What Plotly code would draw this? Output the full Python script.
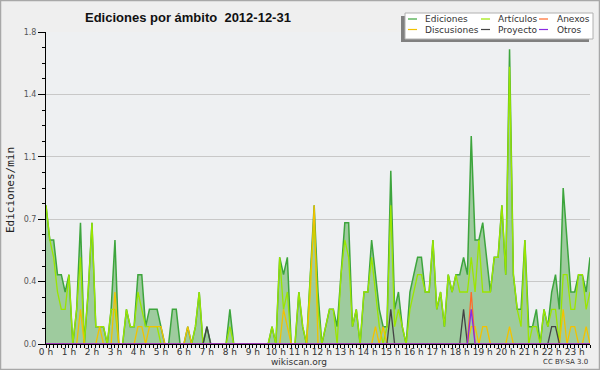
import plotly.graph_objects as go

# ---- data (10-minute buckets, edits per minute) ----
minutes = list(range(0, 1430, 10))          # 00:00 .. 23:40
hour_labels = [f"{h} h" for h in range(24)]
y_tickvals = [0, 0.36, 0.72, 1.08, 1.44, 1.8]
y_ticktext = ["0.0", "0.4", "0.7", "1.1", "1.4", "1.8"]

ediciones = [
    0.8, 0.6, 0.6, 0.4, 0.4, 0.3, 0.4, 0, 0.2, 0.7,
    0, 0.3, 0.7, 0.1, 0.1, 0.1, 0, 0.2, 0.6, 0,
    0, 0.2, 0.1, 0.1, 0.4, 0.4, 0.1, 0.2, 0.2, 0.2,
    0.1, 0, 0, 0.2, 0.2, 0, 0, 0.1, 0, 0.1,
    0.3, 0, 0.1, 0, 0, 0, 0, 0, 0.2, 0,
    0, 0, 0, 0, 0, 0, 0, 0, 0, 0.1,
    0, 0.5, 0.4, 0.5, 0, 0, 0.3, 0.1, 0, 0.4,
    0.8, 0.3, 0, 0.1, 0.2, 0.2, 0.1, 0.4, 0.7, 0.7,
    0.1, 0.2, 0, 0.3, 0.3, 0.6, 0.4, 0.2, 0.1, 0.1,
    1.0, 0.2, 0.3, 0.1, 0, 0.3, 0.4, 0.5, 0.5, 0.3,
    0.3, 0.6, 0.2, 0.3, 0.1, 0.4, 0.3, 0.4, 0.4, 0.5,
    0.4, 1.2, 0.6, 0.6, 0.7, 0.5, 0.3, 0.5, 0.5, 0.8,
    0.4, 1.7, 0.4, 0.2, 0.2, 0.6, 0.1, 0.1, 0.2, 0,
    0.2, 0.1, 0.3, 0.4, 0.2, 0.9, 0.6, 0.3, 0.3, 0.4,
    0.4, 0.3, 0.5,
]
articulos = [
    0.8, 0.6, 0.5, 0.3, 0.2, 0.2, 0.4, 0, 0.2, 0.5,
    0, 0.3, 0.7, 0.1, 0.1, 0.1, 0, 0.2, 0.2, 0,
    0, 0.2, 0.1, 0.1, 0.3, 0.2, 0.1, 0.1, 0.1, 0.1,
    0, 0, 0, 0, 0, 0, 0, 0, 0, 0.1,
    0.3, 0, 0, 0, 0, 0, 0, 0, 0.1, 0,
    0, 0, 0, 0, 0, 0, 0, 0, 0, 0.1,
    0, 0.5, 0.2, 0.3, 0, 0, 0.3, 0.1, 0, 0.4,
    0.7, 0.2, 0, 0.1, 0.2, 0.2, 0, 0.4, 0.6, 0.5,
    0.1, 0.2, 0, 0.3, 0.3, 0.5, 0.3, 0.1, 0, 0.1,
    0.8, 0.1, 0.2, 0.1, 0, 0.2, 0.3, 0.4, 0.4, 0.3,
    0.3, 0.6, 0.2, 0.3, 0.1, 0.4, 0.3, 0.4, 0.3, 0.3,
    0.3, 0.5, 0.3, 0.6, 0.3, 0.3, 0.3, 0.5, 0.5, 0.8,
    0.4, 1.6, 0.4, 0.2, 0.1, 0.6, 0, 0.1, 0.1, 0,
    0.2, 0.1, 0.2, 0.2, 0, 0.4, 0.4, 0.2, 0.2, 0.4,
    0.4, 0.2, 0.3,
]
# sparse series: {bucket index: value}, all other buckets are 0
discusiones_nz = {9: 0.2, 14: 0.1, 18: 0.3, 24: 0.1, 25: 0.1, 27: 0.1, 28: 0.1,
                  29: 0.1, 30: 0.1, 37: 0.1, 62: 0.2, 63: 0.1, 69: 0.3, 70: 0.8,
                  86: 0.1, 88: 0.1, 111: 0.1, 112: 0.1, 114: 0.1, 115: 0.1,
                  121: 0.1, 135: 0.2, 137: 0.1, 138: 0.1, 141: 0.1}
proyecto_nz = {42: 0.1, 90: 0.2, 109: 0.2, 132: 0.1, 133: 0.1}
anexos_nz = {111: 0.3}
otros_nz = {111: 0.2}

n = len(minutes)
def expand(d):
    return [d.get(i, 0.0) for i in range(n)]

discusiones = expand(discusiones_nz)
proyecto = expand(proyecto_nz)
anexos = expand(anexos_nz)
otros = expand(otros_nz)
x = [m / 60 for m in minutes]

C_ED, C_FILL = "#3da53d", "#9ecb9e"
C_ART, C_DIS, C_PRO = "#9be600", "#f2c200", "#444444"
C_ANE, C_OTR = "#ff6a2a", "#8a2be2"

fig = go.Figure()
fig.add_trace(go.Scatter(x=x, y=ediciones, mode="lines", fill="tozeroy",
                         fillcolor=C_FILL, line=dict(color=C_ED, width=1.5),
                         name="Ediciones", showlegend=False, hoverinfo="skip"))
for name, ys, col in [("Artículos", articulos, C_ART), ("Discusiones", discusiones, C_DIS),
                      ("Proyecto", proyecto, C_PRO), ("Anexos", anexos, C_ANE),
                      ("Otros", otros, C_OTR)]:
    fig.add_trace(go.Scatter(x=x, y=ys, mode="lines", line=dict(color=col, width=1.3),
                             name=name, showlegend=False, hoverinfo="skip"))

L, R, T, B = 46, 10, 32, 26
PW, PH = 600 - L - R, 370 - T - B
def px(xp): return (xp - L) / PW
def py(yp): return (370 - B - yp) / PH

fig.update_layout(
    width=600, height=370,
    margin=dict(l=L, r=R, t=T, b=B, autoexpand=False),
    paper_bgcolor="#efefef", plot_bgcolor="#eef0f2",
    title=dict(text="Ediciones por ámbito\u00a0\u00a02012-12-31",
               font=dict(family="Liberation Sans", size=13, color="#111", weight="bold"),
               xref="paper", x=px(85), xanchor="left",
               yref="container", y=1 - 17 / 370, yanchor="middle"),
    xaxis=dict(range=[0, (n - 1) / 6], tickmode="array", tickvals=list(range(24)),
               ticktext=hour_labels, ticks="outside", ticklen=3, tickcolor="black",
               tickangle=0, automargin=False, ticklabelstandoff=-4,
               showline=True, linecolor="black", linewidth=1, showgrid=False,
               zeroline=False, tickfont=dict(family="DejaVu Sans", size=9, color="#333"),
               minor=dict(tickmode="linear", tick0=0, dtick=1 / 6, ticklen=3,
                          ticks="outside", tickcolor="black", showgrid=False)),
    yaxis=dict(range=[0, 1.8], tickmode="array", tickvals=y_tickvals, ticktext=y_ticktext,
               ticks="outside", ticklen=7, tickcolor="black", showline=True,
               automargin=False,
               linecolor="black", linewidth=1, showgrid=True, gridcolor="#c8c8c8",
               zeroline=False, tickfont=dict(family="DejaVu Sans", size=8, color="#555"),
               minor=dict(tickmode="linear", tick0=0, dtick=0.09, ticklen=3,
                          ticks="outside", tickcolor="black", showgrid=False)),
)

shapes = []
annotations = []
# outer frame
shapes.append(dict(type="rect", xref="paper", yref="paper", x0=px(0.5), x1=px(599.5),
                   y0=py(369.5), y1=py(0.5), line=dict(color="#a8a8a8", width=1.5),
                   fillcolor="rgba(0,0,0,0)", layer="above"))
# legend box with shadow
shapes.append(dict(type="rect", xref="paper", yref="paper", x0=px(401), x1=px(589),
                   y0=py(42), y1=py(16), line=dict(width=0), fillcolor="#808080", layer="above"))
shapes.append(dict(type="rect", xref="paper", yref="paper", x0=px(405), x1=px(593),
                   y0=py(39), y1=py(13), line=dict(color="#b0b0b0", width=1),
                   fillcolor="#ffffff", layer="above"))
legend_items = [
    ("Ediciones", C_ED, 408, 423, 19), ("Artículos", C_ART, 481, 496, 19),
    ("Anexos", C_ANE, 539, 555, 19), ("Discusiones", C_DIS, 408, 423, 29.5),
    ("Proyecto", C_PRO, 481, 496, 29.5), ("Otros", C_OTR, 539, 555, 29.5),
]
for label, col, lx, tx, ly in legend_items:
    shapes.append(dict(type="line", xref="paper", yref="paper", x0=px(lx), x1=px(lx + 9),
                       y0=py(ly), y1=py(ly), line=dict(color=col, width=1.2), layer="above"))
    annotations.append(dict(text=label, xref="paper", yref="paper", x=px(tx), y=py(ly),
                            xanchor="left", yanchor="middle", showarrow=False,
                            font=dict(family="DejaVu Sans", size=9, color="#333")))
# y axis title
annotations.append(dict(text="Ediciones/min", xref="paper", yref="paper", x=px(10), y=py(190),
                        textangle=-90, showarrow=False, xanchor="center", yanchor="middle",
                        font=dict(family="DejaVu Sans Mono", size=11, color="#222")))
annotations.append(dict(text="wikiscan.org", xref="paper", yref="paper", x=px(299), y=py(362),
                        showarrow=False, xanchor="center", yanchor="middle",
                        font=dict(family="DejaVu Sans", size=9, color="#333")))
annotations.append(dict(text="CC BY-SA 3.0", xref="paper", yref="paper", x=px(590), y=py(362),
                        showarrow=False, xanchor="right", yanchor="middle",
                        font=dict(family="DejaVu Sans", size=7, color="#333")))
fig.update_layout(shapes=shapes, annotations=annotations)

fig.write_html("out.html", config={"displayModeBar": False},
               post_script="document.body.style.margin='0';document.body.style.overflow='hidden';")
